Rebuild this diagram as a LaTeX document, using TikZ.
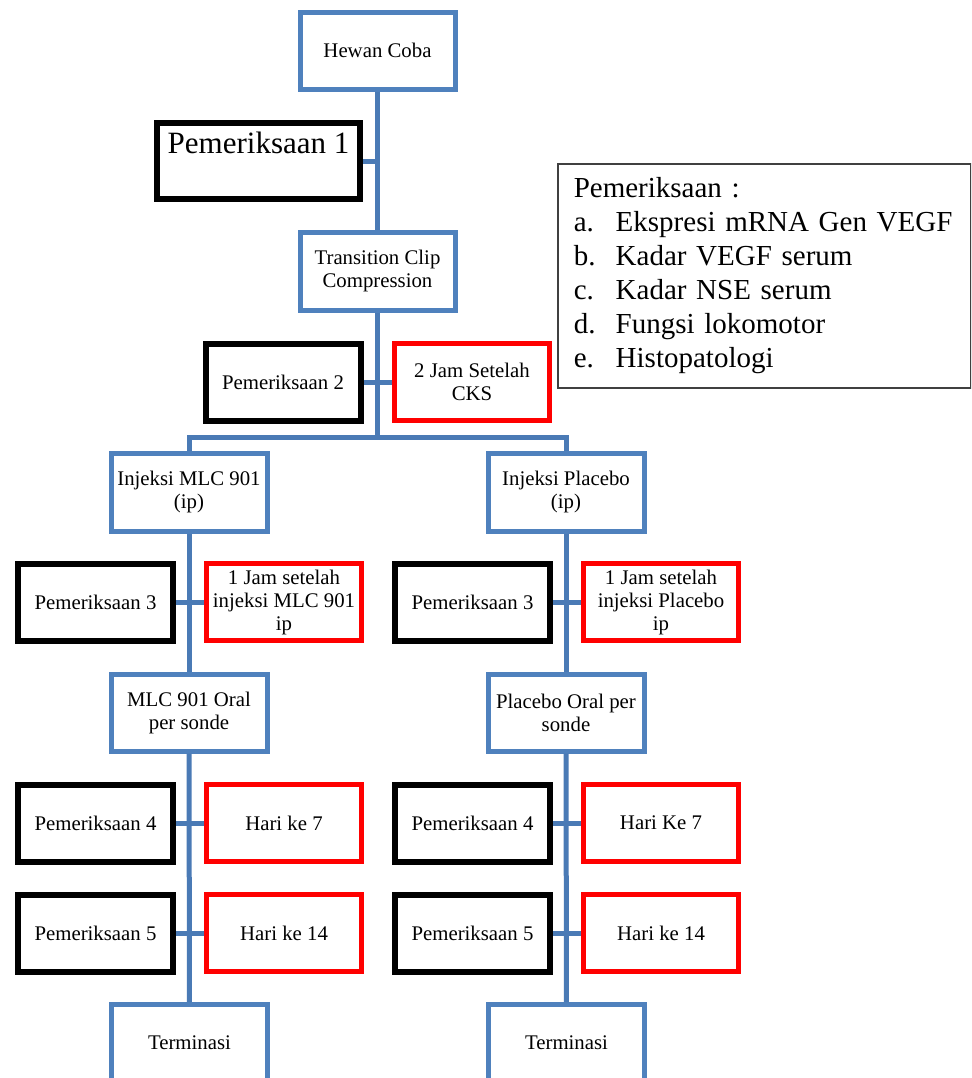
\documentclass[tikz,border=0pt]{standalone}
\usepackage{fontspec}
\setmainfont{Liberation Serif}
\definecolor{flowblue}{HTML}{4F81BD}
\definecolor{linkblue}{HTML}{4A7AB5}
\definecolor{legendgray}{HTML}{404040}
\newcommand\tightspace{\fontdimen2\font=0.16em\relax}
\begin{document}
\begin{tikzpicture}[x=0.5pt,y=-0.5pt,
    stage/.style={draw=flowblue,line width=2.5pt,minimum width=77.5pt,minimum height=38.5pt,
        inner sep=0pt,align=center,font=\fontsize{10.4}{11.5}\selectfont},
    exam/.style={stage,draw=black,line width=3pt},
    timing/.style={stage,draw=red},
    link/.style={draw=linkblue,line width=2.5pt},
    legend/.style={draw=legendgray,line width=0.75pt,anchor=north west,minimum height=112pt,
        inner xsep=8pt,inner ysep=0pt,text width=190.5pt,align=left,
        font=\fontsize{14.5}{17}\selectfont}]
    \useasboundingbox (0,0) rectangle (971,1078);
    \clip (0,0) rectangle (971,1078);

    \node[stage] (hewan) at (377.5,50.5) {Hewan Coba};
    \node[exam,minimum width=101.5pt,minimum height=38pt,text depth=18pt,
        font=\fontsize{15.5}{18}\selectfont] (pem1) at (258.5,161) {Pemeriksaan 1};
    \node[stage,minimum height=39pt] (trans) at (377.5,271) {Transition Clip\\Compression};
    \node[exam] (pem2) at (283,382) {Pemeriksaan 2};
    \node[timing] (jam2) at (472,382) {2 Jam Setelah\\CKS};
    \coordinate (split) at (377.5,437);

    \node[legend] (info) at (557,163) {\tightspace Pemeriksaan :\\
        \makebox[21pt][l]{a.}Ekspresi mRNA Gen VEGF\\
        \makebox[21pt][l]{b.}Kadar VEGF serum\\
        \makebox[21pt][l]{c.}Kadar NSE serum\\
        \makebox[21pt][l]{d.}Fungsi lokomotor\\
        \makebox[21pt][l]{e.}Histopatologi};

    \draw[link] (hewan) -- (trans);
    \draw[link] (pem1.east) -- (pem1.east -| hewan.south);
    \draw[link] (trans) -- (split);
    \draw[link] (pem2) -- (jam2);

    \foreach \c/\dx/\inj/\jam/\oral/\ke in
        {L/0/{Injeksi MLC 901\\(ip)}/{1 Jam setelah\\injeksi MLC 901\\ip}/{MLC 901 Oral\\per sonde}/{Hari ke 7},
         R/377/{Injeksi Placebo\\(ip)}/{1 Jam setelah\\injeksi Placebo\\ip}/{Placebo Oral per\\sonde}/{Hari Ke 7}}
    {
        \node[stage,minimum width=78pt,minimum height=39pt] (inj\c) at (\dx+189,492) {\inj};
        \node[exam] (pemA\c) at (\dx+95.5,602) {Pemeriksaan 3};
        \node[timing] (jam\c) at (\dx+284,602) {\jam};
        \node[stage,minimum width=78pt] (oral\c) at (\dx+189,712.5) {\oral};
        \node[exam] (pemB\c) at (\dx+95.5,823) {Pemeriksaan 4};
        \node[timing] (hariA\c) at (\dx+284,823) {\ke};
        \node[exam] (pemC\c) at (\dx+95.5,933) {Pemeriksaan 5};
        \node[timing] (hariB\c) at (\dx+284,933) {Hari ke 14};
        \node[stage,minimum width=78pt] (term\c) at (\dx+189.5,1043) {Terminasi};

        \draw[link] (inj\c) -- (oral\c);
        \draw[link] (oral\c) -- (term\c);
        \draw[link] (pemA\c) -- (jam\c);
        \draw[link] (pemB\c) -- (hariA\c);
        \draw[link] (pemC\c) -- (hariB\c);
    }
    \draw[link] (injL) |- (split) -| (injR);
\end{tikzpicture}
\end{document}
